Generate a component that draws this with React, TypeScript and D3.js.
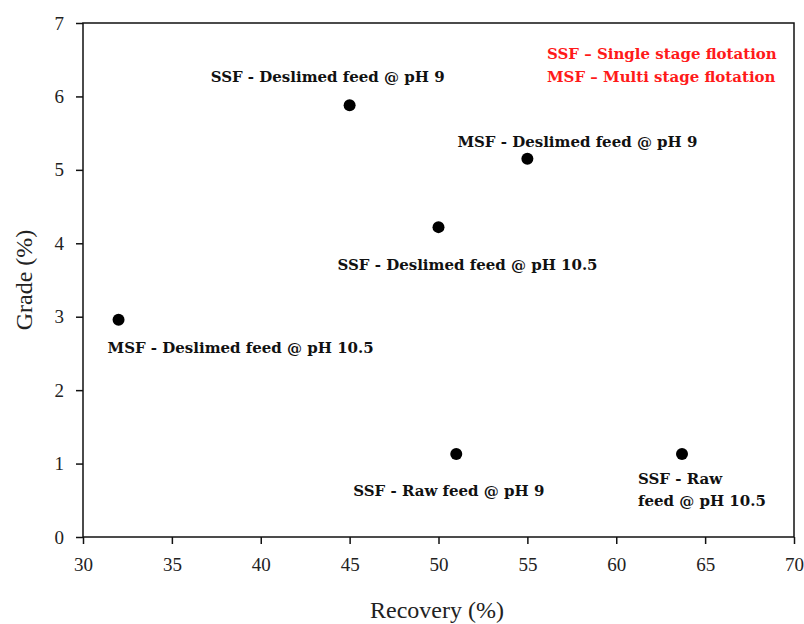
import React, { useRef, useEffect } from 'react'
import * as d3 from 'd3'

const recovery = [45, 55, 50, 32, 51, 63.7]
const grade = [5.88, 5.15, 4.22, 2.96, 1.13, 1.13]
const labels = [
  ['SSF - Deslimed feed @ pH 9'],
  ['MSF - Deslimed feed @ pH 9'],
  ['SSF - Deslimed feed @ pH 10.5'],
  ['MSF - Deslimed feed @ pH 10.5'],
  ['SSF - Raw feed @ pH 9'],
  ['SSF - Raw', 'feed @ pH 10.5'],
]
const xTicks = [30, 35, 40, 45, 50, 55, 60, 65, 70]
const yTicks = [0, 1, 2, 3, 4, 5, 6, 7]
const notes = ['SSF – Single stage flotation', 'MSF – Multi stage flotation']

// label offsets from each point (px)
const labelOffset = [
  [-139, -23],
  [-70, -12],
  [-101, 43],
  [-11, 33],
  [-103, 42],
  [-44, 30],
]

const W = 804
const H = 624
const m = { left: 83, right: 10, top: 23, bottom: 87 }
const serif = '"Liberation Serif", "DejaVu Serif", serif'
const boldSerif = '"DejaVu Serif", serif'

const App = () => {
  const svgRef = useRef(null)

  useEffect(() => {
    const svg = d3.select(svgRef.current)
    svg.selectAll('*').remove()

    const x = d3.scaleLinear().domain([30, 70]).range([m.left, W - m.right])
    const y = d3.scaleLinear().domain([0, 7]).range([H - m.bottom, m.top])

    // frame
    svg
      .append('rect')
      .attr('x', m.left)
      .attr('y', m.top)
      .attr('width', W - m.right - m.left)
      .attr('height', H - m.bottom - m.top)
      .attr('fill', 'none')
      .attr('stroke', '#111')
      .attr('stroke-width', 1.5)

    const xAxis = svg
      .append('g')
      .attr('transform', `translate(0,${H - m.bottom})`)
      .call(d3.axisBottom(x).tickValues(xTicks).tickSize(7).tickPadding(14).tickFormat(d3.format('d')))
    const yAxis = svg
      .append('g')
      .attr('transform', `translate(${m.left},0)`)
      .call(d3.axisLeft(y).tickValues(yTicks).tickSize(7).tickPadding(12).tickFormat(d3.format('d')))

    ;[xAxis, yAxis].forEach((g) => {
      g.select('.domain').remove()
      g.selectAll('line').attr('stroke', '#111').attr('stroke-width', 1.5)
      g.selectAll('text')
        .attr('font-family', serif)
        .attr('font-size', 19)
        .attr('fill', '#222')
    })

    svg
      .append('text')
      .attr('x', 437)
      .attr('y', 618)
      .attr('text-anchor', 'middle')
      .attr('font-family', serif)
      .attr('font-size', 24)
      .attr('fill', '#222')
      .text('Recovery (%)')

    svg
      .append('text')
      .attr('transform', `translate(32,${(m.top + H - m.bottom) / 2}) rotate(-90)`)
      .attr('text-anchor', 'middle')
      .attr('font-family', serif)
      .attr('font-size', 24)
      .attr('fill', '#222')
      .text('Grade (%)')

    const pts = recovery.map((r, i) => ({ r, g: grade[i], label: labels[i], off: labelOffset[i] }))

    svg
      .append('g')
      .selectAll('circle')
      .data(pts)
      .enter()
      .append('circle')
      .attr('cx', (d) => x(d.r))
      .attr('cy', (d) => y(d.g))
      .attr('r', 6)
      .attr('fill', '#000')

    const lab = svg
      .append('g')
      .selectAll('text')
      .data(pts)
      .enter()
      .append('text')
      .attr('font-family', boldSerif)
      .attr('font-weight', 'bold')
      .attr('font-size', 15)
      .attr('fill', '#111')
    lab
      .selectAll('tspan')
      .data((d) => d.label.map((t, j) => ({ t, j, d })))
      .enter()
      .append('tspan')
      .attr('x', (e) => x(e.d.r) + e.d.off[0])
      .attr('y', (e) => y(e.d.g) + e.d.off[1] + e.j * 22)
      .text((e) => e.t)

    svg
      .append('g')
      .selectAll('text')
      .data(notes)
      .enter()
      .append('text')
      .attr('x', 547)
      .attr('y', (d, i) => 59 + i * 23)
      .attr('font-family', boldSerif)
      .attr('font-weight', 'bold')
      .attr('font-size', 15)
      .attr('fill', '#ff1a1a')
      .text((d) => d)
  }, [])

  return (
    <svg
      ref={svgRef}
      width={W}
      height={H}
      style={{ position: 'absolute', left: 0, top: 0, background: '#fff' }}
    />
  )
}

export default App
